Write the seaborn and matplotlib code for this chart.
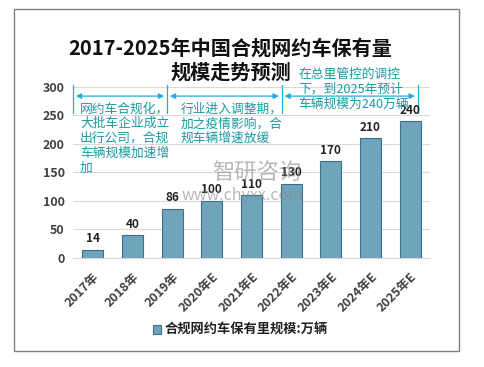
import pandas as pd
import seaborn as sns
import matplotlib.pyplot as plt
from matplotlib.patches import Rectangle

sns.set_style("white")
plt.rcParams['font.family'] = ['Noto Sans CJK SC', 'DejaVu Sans']

years = ['2017年', '2018年', '2019年', '2020年E', '2021年E', '2022年E', '2023年E', '2024年E', '2025年E']
values = [14, 40, 86, 100, 110, 130, 170, 210, 240]
series_name = '合规网约车保有里规模:万辆'

df = pd.DataFrame({'year': years, 'value': values, 'series': series_name})

fig = plt.figure(figsize=(4.85, 3.67), dpi=100)
ax = fig.add_axes([0.1505, 0.297, 0.736, 0.466])

sns.barplot(data=df, x='year', y='value', hue='series', palette=['#62a8ca'],
            width=0.53, edgecolor='#3d6f8a', linewidth=0.8, ax=ax)

ax.set_ylim(0, 300)
ax.set_yticks(range(0, 301, 50))
ax.yaxis.grid(True, color='#d9d9d9', linewidth=0.8)
ax.set_axisbelow(True)
for s in ['top', 'right', 'left']:
    ax.spines[s].set_visible(False)
ax.spines['bottom'].set_color('#d9d9d9')
ax.set_xlabel('')
ax.set_ylabel('')
ax.tick_params(axis='both', length=0, labelsize=9, labelcolor='#404040')
ax.tick_params(axis='x', pad=9)
ax.tick_params(axis='y', pad=6)
plt.setp(ax.get_xticklabels(), rotation=45, ha='right', rotation_mode='anchor', fontweight='bold')
plt.setp(ax.get_yticklabels(), fontweight='bold')

for i, v in enumerate(values):
    ax.text(i, v + 8, str(v), ha='center', va='bottom', fontsize=8.5, fontweight='bold', color='#222222')

# stage annotations
arrow_c = '#29abe2'
text_c = '#1b9aa3'
bounds = [-0.5, 1.87, 4.76, 8.19]
for b in bounds:
    ax.plot([b, b], [254, 304], color=arrow_c, lw=0.9, clip_on=False)
for a, b in zip(bounds[:-1], bounds[1:]):
    ax.annotate('', xy=(b, 284), xytext=(a, 284), annotation_clip=False,
                arrowprops=dict(arrowstyle='<|-|>', color=arrow_c, lw=0.9, mutation_scale=8))

stage_texts = ['网约车合规化，\n大批车企业成立\n出行公司，合规\n车辆规模加速增\n加',
               '行业进入调整期，\n加之疫情影响，合\n规车辆增速放缓',
               '在总里管控的调控\n下，到2025年预计\n车辆规模为240万辆']
ax.text(-0.32, 273, stage_texts[0], color=text_c, fontsize=9.2, va='top', linespacing=1.18)
ax.text(2.22, 273, stage_texts[1], color=text_c, fontsize=9.2, va='top', linespacing=1.18)
ax.text(5.19, 333, stage_texts[2], color=text_c, fontsize=9.2, va='top', linespacing=1.18)
ax.set_xlim(-0.5, 8.5)

# watermark
fig.text(257 / 485, 1 - 173 / 367, '智研咨询', fontsize=16, color='#8a8a8a', alpha=0.6, ha='center', va='center')
fig.text(243 / 485, 1 - 195 / 367, 'www.chyxx.com', fontsize=11.5, color='#8a8a8a', alpha=0.6, ha='center', va='center')

fig.text(0.475, 1 - 60 / 367, '2017-2025年中国合规网约车保有量\n规模走势预测', ha='center', va='center',
         fontsize=14.5, fontweight='bold', color='#111111', linespacing=1.15)

leg = ax.legend(loc='center', bbox_to_anchor=(0.47, -0.421), frameon=False,
                handlelength=0.6, handleheight=0.6, handletextpad=0.3, fontsize=9.5)
for t in leg.get_texts():
    t.set_fontweight('bold')
    t.set_color('#222222')

fig.patches.append(Rectangle((14 / 485, 1 - 351 / 367), 445 / 485, 342 / 367, transform=fig.transFigure,
                             fill=False, edgecolor='#808080', linewidth=1))

fig.savefig('out.png', dpi=100)
